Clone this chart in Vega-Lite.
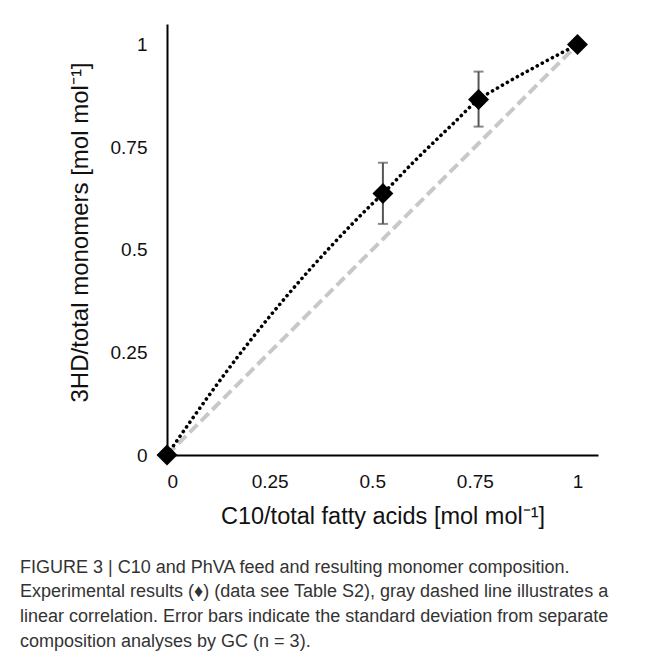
{
  "$schema": "https://vega.github.io/schema/vega-lite/v6.json",
  "width": 431,
  "height": 431,
  "autosize": "none",
  "padding": {"left": 167, "top": 24, "right": 57, "bottom": 210},
  "background": "white",
  "config": {
    "view": {"stroke": null},
    "font": "Liberation Sans"
  },
  "title": {
    "text": [
      "FIGURE 3 | C10 and PhVA feed and resulting monomer composition.",
      "Experimental results (♦) (data see Table S2), gray dashed line illustrates a",
      "linear correlation. Error bars indicate the standard deviation from separate",
      "composition analyses by GC (n = 3)."
    ],
    "orient": "bottom",
    "anchor": "start",
    "frame": "group",
    "dx": -147,
    "offset": 31,
    "font": "Liberation Sans",
    "fontSize": 18,
    "fontWeight": "normal",
    "color": "#333333",
    "lineHeight": 24.7
  },
  "datasets": {
    "linear": [{"x": 0, "y": 0}, {"x": 1, "y": 1}],
    "fit": [
      {"x": 0, "y": 0}, {"x": 0.1, "y": 0.142}, {"x": 0.2, "y": 0.275}, {"x": 0.3, "y": 0.397},
      {"x": 0.4, "y": 0.509}, {"x": 0.5, "y": 0.612}, {"x": 0.526, "y": 0.637}, {"x": 0.6, "y": 0.713},
      {"x": 0.7, "y": 0.81}, {"x": 0.759, "y": 0.866}, {"x": 0.8, "y": 0.891}, {"x": 0.9, "y": 0.947}, {"x": 1, "y": 1}
    ],
    "points": [
      {"x": 0, "y": 0}, {"x": 0.526, "y": 0.637}, {"x": 0.759, "y": 0.866}, {"x": 1, "y": 1}
    ],
    "errors": [
      {"x": 0.526, "lo": 0.563, "hi": 0.712},
      {"x": 0.759, "lo": 0.8, "hi": 0.934}
    ]
  },
  "encoding": {
    "x": {"field": "x", "type": "quantitative", "scale": {"domain": [0, 1.05], "nice": false, "zero": true},
      "axis": {"values": [0, 0.25, 0.5, 0.75, 1], "format": ".2~f", "grid": false, "ticks": false, "domainColor": "#000000", "domainWidth": 2,
        "labelFont": "Liberation Sans", "labelFontSize": 19, "labelColor": "#111111", "labelPadding": 17,
        "titleFont": "Liberation Sans", "titleFontSize": 23.5, "titleFontWeight": "normal", "titleColor": "#111111", "titlePadding": 13,
        "title": "C10/total fatty acids [mol mol⁻¹]"}},
    "y": {"field": "y", "type": "quantitative", "scale": {"domain": [0, 1.05], "nice": false, "zero": true},
      "axis": {"values": [0, 0.25, 0.5, 0.75, 1], "format": ".2~f", "grid": false, "ticks": false, "domainColor": "#000000", "domainWidth": 2,
        "labelFont": "Liberation Sans", "labelFontSize": 19, "labelColor": "#111111", "labelPadding": 20,
        "titleFont": "Liberation Sans", "titleFontSize": 24, "titleFontWeight": "normal", "titleColor": "#111111", "titlePadding": 18, "titleY": 208,
        "title": "3HD/total monomers [mol mol⁻¹]"}}
  },
  "layer": [
    {"data": {"name": "linear"}, "mark": {"type": "line", "color": "#c8c8c8", "strokeWidth": 4, "strokeDash": [11, 5]}},
    {"data": {"name": "fit"}, "mark": {"type": "line", "color": "#000000", "strokeWidth": 3.6, "strokeDash": [0.1, 5.6], "strokeCap": "round", "interpolate": "monotone"}},
    {"data": {"name": "errors"}, "mark": {"type": "rule", "color": "#555555", "strokeWidth": 2},
      "encoding": {"y": {"field": "lo", "type": "quantitative"}, "y2": {"field": "hi"}}},
    {"data": {"name": "errors"}, "mark": {"type": "tick", "orient": "horizontal", "color": "#555555", "size": 10, "thickness": 2},
      "encoding": {"y": {"field": "lo", "type": "quantitative"}}},
    {"data": {"name": "errors"}, "mark": {"type": "tick", "orient": "horizontal", "color": "#555555", "size": 10, "thickness": 2},
      "encoding": {"y": {"field": "hi", "type": "quantitative"}}},
    {"data": {"name": "points"}, "mark": {"type": "point", "shape": "diamond", "filled": true, "color": "#000000", "opacity": 1, "size": 440}}
  ]
}
